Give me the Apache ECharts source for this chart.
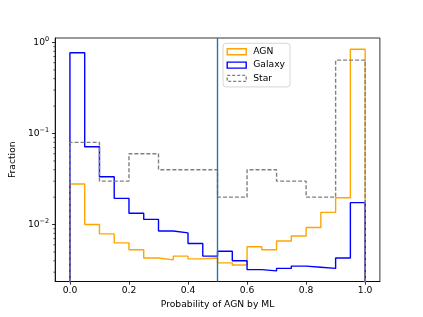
<!DOCTYPE html>
<html><head><meta charset="utf-8">
<script src="https://cdn.jsdelivr.net/npm/echarts@6/dist/echarts.min.js"></script>
<style>html,body{margin:0;padding:0;background:#fff}#c{width:423px;height:317px}</style>
</head><body><div id="c"></div>
<script>
// Bin edges
const edges20 = [0,0.05,0.1,0.15,0.2,0.25,0.3,0.35,0.4,0.45,0.5,0.55,0.6,0.65,0.7,0.75,0.8,0.85,0.9,0.95,1.0];
const edges10 = [0,0.1,0.2,0.3,0.4,0.5,0.6,0.7,0.8,0.9,1.0];
// Fractions per bin
const agnFrac = [0.0279,0.0100,0.0079,0.0063,0.0053,0.0043,0.0041,0.0045,0.0042,0.0043,0.0038,0.0036,0.0057,0.0053,0.0066,0.0075,0.0093,0.0136,0.0197,0.842];
const galaxyFrac = [0.772,0.0716,0.0335,0.0194,0.0133,0.0114,0.0085,0.0081,0.0062,0.0045,0.0051,0.0040,0.0032,0.0031,0.0033,0.0035,0.0034,0.0033,0.0043,0.0174];
const starFrac = [0.08,0.03,0.06,0.04,0.04,0.02,0.04,0.03,0.02,0.64];
// Ticks
const xTicks = [0,0.2,0.4,0.6,0.8,1.0];
const yTicks = [0.01,0.1,1];
const yMinorTicks = [0.003,0.004,0.005,0.006,0.007,0.008,0.009,0.02,0.03,0.04,0.05,0.06,0.07,0.08,0.09,0.2,0.3,0.4,0.5,0.6,0.7,0.8,0.9];
const threshold = 0.5;

const X_MIN = -0.05, X_MAX = 1.05, Y_MIN = 0.00237, Y_MAX = 1.12;
const FLOOR = 1e-5;
const FONT = 'DejaVu Sans';

function stepData(edges, vals){
  const d = [[edges[0], FLOOR]];
  for (let i = 0; i < vals.length; i++) d.push([edges[i], vals[i]]);
  d.push([edges[edges.length-1], vals[vals.length-1]]);
  d.push([edges[edges.length-1], FLOOR]);
  return d;
}
function histSeries(name, edges, vals, color, type){
  return {
    name: name, type: 'line', step: 'end', showSymbol: false, symbol: 'none',
    data: stepData(edges, vals), clip: true,
    lineStyle: {color: color, width: 1.4, type: type},
    itemStyle: {color: color}
  };
}

const chart = echarts.init(document.getElementById('c'), null, {renderer: 'canvas'});
const LW = 0.8;
chart.setOption({
  animation: false,
  backgroundColor: '#fff',
  grid: {left: 52.8, right: 43.1, top: 38, bottom: 35.5, show: true, borderColor: '#000', borderWidth: LW, backgroundColor: 'transparent'},
  xAxis: {
    type: 'value', min: X_MIN, max: X_MAX,
    name: 'Probability of AGN by ML', nameLocation: 'middle', nameGap: 16,
    nameTextStyle: {fontFamily: FONT, fontSize: 9.2, color: '#000'},
    axisLine: {show: true, onZero: false, lineStyle: {color: '#000', width: LW}},
    axisTick: {show: true, length: 3.2, customValues: xTicks, lineStyle: {color: '#000', width: LW}},
    axisLabel: {customValues: xTicks, formatter: v => v.toFixed(1), fontFamily: FONT, fontSize: 9.2, color: '#000', margin: 5},
    splitLine: {show: false}
  },
  yAxis: {
    type: 'log', min: Y_MIN, max: Y_MAX,
    name: 'Fraction', nameLocation: 'middle', nameGap: 32,
    nameTextStyle: {fontFamily: FONT, fontSize: 9.2, color: '#000'},
    axisLine: {show: true, onZero: false, lineStyle: {color: '#000', width: LW}},
    axisTick: {show: true, length: 3.2, customValues: yTicks, lineStyle: {color: '#000', width: LW}},
    axisLabel: {
      customValues: yTicks, margin: 6, color: '#000',
      formatter: v => { const e = Math.round(Math.log10(v)); return '{b|10}{s|' + (e < 0 ? '\u2212' + (-e) : e) + '}'; },
      rich: {
        b: {fontFamily: FONT, fontSize: 9.2, color: '#000'},
        s: {fontFamily: FONT, fontSize: 6.5, color: '#000', padding: [0,0,6,0]}
      }
    },
    splitLine: {show: false}
  },
  legend: {
    left: 223, top: 43.3, orient: 'vertical',
    backgroundColor: 'rgba(255,255,255,0.8)', borderColor: '#cccccc', borderWidth: 0.8, borderRadius: 3,
    padding: [3, 5, 3, 3.5], itemGap: 2.3, itemWidth: 19, itemHeight: 6,
    textStyle: {fontFamily: FONT, fontSize: 9.2, color: '#000', lineHeight: 11, padding: [0,0,0,2]},
    data: [
      {name: 'AGN', icon: 'rect', itemStyle: {color: 'rgba(0,0,0,0)', borderColor: '#FFA500', borderWidth: 1.4}},
      {name: 'Galaxy', icon: 'rect', itemStyle: {color: 'rgba(0,0,0,0)', borderColor: '#0000FF', borderWidth: 1.4}},
      {name: 'Star', icon: 'rect', itemStyle: {color: 'rgba(0,0,0,0)', borderColor: '#808080', borderWidth: 1.4, borderType: [3,2]}}
    ]
  },
  series: [
    Object.assign(histSeries('AGN', edges20, agnFrac, '#FFA500', 'solid'), {
      markLine: {silent: true, symbol: ['none','none'], label: {show: false},
        lineStyle: {color: '#1f77b4', width: 1.4, type: 'solid'}, data: [{xAxis: threshold}]}
    }),
    histSeries('Galaxy', edges20, galaxyFrac, '#0000FF', 'solid'),
    histSeries('Star', edges10, starFrac, '#808080', [4,2]),
    {
      type: 'custom', coordinateSystem: 'cartesian2d', clip: false, silent: true,
      data: yMinorTicks.map(v => [X_MIN, v]),
      renderItem: (params, api) => {
        const p = api.coord([api.value(0), api.value(1)]);
        return {type: 'line', shape: {x1: p[0] - 1.9, y1: p[1], x2: p[0], y2: p[1]}, style: {stroke: '#000', lineWidth: 0.6}};
      }
    }
  ]
});
</script>
</body></html>
